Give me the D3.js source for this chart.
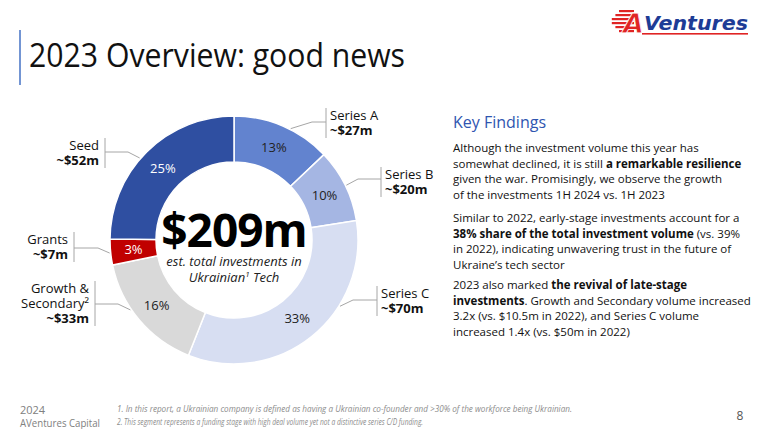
<!DOCTYPE html>
<html>
<head>
<meta charset="utf-8">
<script src="https://cdn.jsdelivr.net/npm/d3@7"></script>
<style>
  html, body { margin: 0; padding: 0; background: #fff; }
  svg { display: block; font-family: "Open Sans", sans-serif; }
</style>
</head>
<body>
<svg id="svg" width="764" height="429"></svg>
<script>
// chart data
var stages = ["Series A", "Series B", "Series C", "Growth & Secondary²", "Grants", "Seed"];
var nameLines = [["Series A"], ["Series B"], ["Series C"], ["Growth &", "Secondary²"], ["Grants"], ["Seed"]];
var amounts = [27, 20, 70, 33, 7, 52];          // $m
var sharePct = [13, 10, 33, 16, 3, 25];          // % of total
var totalLabel = "$209m";
var colors = ["#6283cf", "#a5b6e3", "#d7def2", "#d9d9d9", "#c00000", "#2f4fa1"];
var pctColors = ["#222", "#222", "#222", "#222", "#fff", "#fff"];

// where the outside labels sit (left / right of the ring)
var labelLayout = [
  {side: "r", barX: 326, base: 120, lineY: 122, elbowX: 312, angle: 27},
  {side: "r", barX: 381, base: 179, lineY: 179, elbowX: 358, angle: 64},
  {side: "r", barX: 377, base: 298, lineY: 300, elbowX: 353, angle: 122},
  {side: "l", barX: 95,  base: 293, lineY: 304, elbowX: 118, angle: 236},
  {side: "l", barX: 74,  base: 244, lineY: 248, elbowX: 98,  angle: 264},
  {side: "l", barX: 105, base: 150, lineY: 152, elbowX: 128, angle: 311}
];

var findings = [
  [[["Although the investment volume this year has", 0]],
   [["somewhat declined, it is still ", 0], ["a remarkable resilience", 1]],
   [["given the war. Promisingly, we observe the growth", 0]],
   [["of the investments 1H 2024 vs. 1H 2023", 0]]],
  [[["Similar to 2022, early-stage investments account for a", 0]],
   [["38% share of the total investment volume", 1], [" (vs. 39%", 0]],
   [["in 2022), indicating unwavering trust in the future of", 0]],
   [["Ukraine’s tech sector", 0]]],
  [[["2023 also marked ", 0], ["the revival of late-stage", 1]],
   [["investments", 1], [". Growth and Secondary volume increased", 0]],
   [["3.2x (vs. $10.5m in 2022), and Series C volume", 0]],
   [["increased 1.4x (vs. $50m in 2022)", 0]]]
];

var footnotes = [
  "1. In this report, a Ukrainian company is defined as having a Ukrainian co-founder and >30% of the workforce being Ukrainian.",
  "2. This segment represents a funding stage with high deal volume yet not a distinctive series C/D funding."
];

var svg = d3.select("#svg");
var cx = 234, cy = 240;
var outerR = 124, innerR = 78;

// title + accent bar
svg.append("line").attr("x1", 20).attr("x2", 20).attr("y1", 30).attr("y2", 85)
  .style("stroke", "#4472c4").style("stroke-width", 1.5);
svg.append("text").attr("x", 29).attr("y", 67)
  .style("font-size", "33px").style("fill", "#111")
  .attr("textLength", 376).attr("lengthAdjust", "spacingAndGlyphs")
  .text("2023 Overview: good news");

// logo
var logo = svg.append("g").attr("transform", "translate(612,8)");
[0, 4, 8, 12, 16, 20].forEach(function(dy, i) {
  var w = 16 - Math.abs(dy - 10) * 0.9;
  logo.append("rect").attr("x", 14 - w).attr("y", dy + 2).attr("width", w + 8).attr("height", 2.2)
    .style("fill", "#e02424");
});
logo.append("text").attr("x", 11).attr("y", 25)
  .style("font-family", "'DejaVu Sans', sans-serif").style("font-weight", "bold").style("font-style", "italic")
  .style("font-size", "27px").style("fill", "#e02424").style("stroke", "#fff").style("stroke-width", 0.8)
  .text("A");
logo.append("text").attr("x", 32).attr("y", 22)
  .style("font-family", "'DejaVu Sans', sans-serif").style("font-weight", "bold").style("font-style", "italic")
  .style("font-size", "19px").style("fill", "#1d3c96")
  .attr("textLength", 104).attr("lengthAdjust", "spacingAndGlyphs")
  .text("Ventures");
logo.append("rect").attr("x", 30).attr("y", 25).attr("width", 106).attr("height", 1.6).style("fill", "#e02424");

// donut
var pie = d3.pie().sort(null).value(function(d) { return d; });
var arcs = pie(amounts);
var arc = d3.arc().innerRadius(innerR).outerRadius(outerR);

var g = svg.append("g").attr("transform", "translate(" + cx + "," + cy + ")");
g.selectAll("path.slice")
  .data(arcs)
  .enter().append("path")
  .attr("class", "slice")
  .attr("d", arc)
  .style("fill", function(d, i) { return colors[i]; })
  .style("stroke", "#fff").style("stroke-width", 1.5);

g.selectAll("text.pct")
  .data(arcs)
  .enter().append("text")
  .attr("class", "pct")
  .attr("transform", function(d) { return "translate(" + arc.centroid(d) + ")"; })
  .attr("text-anchor", "middle").attr("dy", "0.35em")
  .style("font-size", "13px")
  .style("fill", function(d, i) { return pctColors[i]; })
  .text(function(d, i) { return sharePct[i] + "%"; });

// centre text
g.append("text").attr("text-anchor", "middle").attr("y", 7)
  .style("font-size", "46px").style("font-weight", "bold").style("fill", "#000")
  .style("letter-spacing", "-1px")
  .text(totalLabel);
g.append("text").attr("text-anchor", "middle").attr("y", 26)
  .style("font-size", "13px").style("font-style", "italic").style("fill", "#222")
  .text("est. total investments in");
g.append("text").attr("text-anchor", "middle").attr("y", 42)
  .style("font-size", "13px").style("font-style", "italic").style("fill", "#222")
  .html("Ukrainian<tspan dy='-5' font-size='8px'>1</tspan><tspan dy='5'> Tech</tspan>");

// outside labels with leader lines
var rad = d3.scaleLinear().domain([0, 360]).range([0, 2 * Math.PI]);
labelLayout.forEach(function(L, i) {
  var lines = nameLines[i].concat(["~$" + amounts[i] + "m"]);
  var a = rad(L.angle), r0 = outerR + 1;
  var sx = cx + r0 * Math.sin(a), sy = cy - r0 * Math.cos(a);
  var top = L.base - 12, bottom = L.base + (lines.length - 1) * 15 + 3;

  svg.append("polyline")
    .attr("points", [[sx, sy], [L.elbowX, L.lineY], [L.barX, L.lineY]].join(" "))
    .style("fill", "none").style("stroke", "#a6a6a6").style("stroke-width", 1);
  svg.append("line").attr("x1", L.barX).attr("x2", L.barX).attr("y1", top).attr("y2", bottom)
    .style("stroke", "#a6a6a6").style("stroke-width", 1);

  var t = svg.append("text")
    .attr("x", L.side == "r" ? L.barX + 4 : L.barX - 6)
    .attr("y", L.base)
    .attr("text-anchor", L.side == "r" ? "start" : "end")
    .style("font-size", "13px").style("fill", "#111");
  lines.forEach(function(s, j) {
    t.append("tspan")
      .attr("x", L.side == "r" ? L.barX + 4 : L.barX - 6)
      .attr("dy", j == 0 ? 0 : 15)
      .style("font-weight", j == lines.length - 1 ? "bold" : "normal")
      .text(s);
  });
});

// key findings
svg.append("text").attr("x", 453).attr("y", 128)
  .style("font-size", "16px").style("fill", "#2f55b0")
  .text("Key Findings");

var paraTop = [152, 222, 289];
findings.forEach(function(para, p) {
  para.forEach(function(line, k) {
    var t = svg.append("text").attr("x", 453).attr("y", paraTop[p] + k * 15.6)
      .style("font-size", "11.5px").style("fill", "#111");
    line.forEach(function(run) {
      t.append("tspan").style("font-weight", run[1] ? "bold" : "normal").text(run[0]);
    });
  });
});

// footer
svg.append("text").attr("x", 20).attr("y", 414).style("font-size", "11px").style("fill", "#808080").text("2024");
svg.append("text").attr("x", 20).attr("y", 427).style("font-size", "11px").style("fill", "#808080")
  .attr("textLength", 80).attr("lengthAdjust", "spacingAndGlyphs")
  .text("AVentures Capital");
var fnLen = [455, 306];
footnotes.forEach(function(s, i) {
  svg.append("text").attr("x", 117).attr("y", 412 + i * 13)
    .style("font-size", "9px").style("font-style", "italic").style("fill", "#8c8c8c")
    .attr("textLength", fnLen[i]).attr("lengthAdjust", "spacingAndGlyphs")
    .text(s);
});
svg.append("text").attr("x", 740).attr("y", 420).attr("text-anchor", "middle")
  .style("font-size", "12px").style("fill", "#555").text("8");
</script>
</body>
</html>
